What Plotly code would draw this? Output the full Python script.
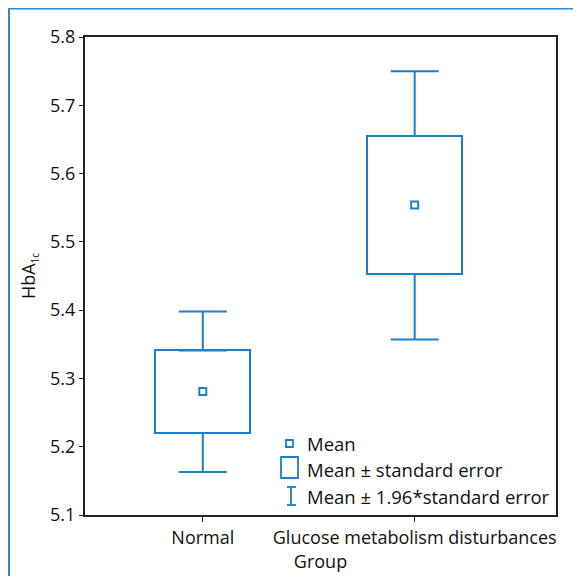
import plotly.graph_objects as go

# ---- data ----
groups = ["Normal", "Glucose metabolism disturbances"]
group_pos = [1, 2]
means = [5.281, 5.554]
se_low = [5.220, 5.453]
se_high = [5.341, 5.655]
ci_low = [5.163, 5.357]
ci_high = [5.398, 5.750]
y_ticks = [5.1, 5.2, 5.3, 5.4, 5.5, 5.6, 5.7, 5.8]

BLUE = "#1a80c8"
FONT = "Open Sans"
FS = 18
OFF = 8  # page body margin
W, H = 581 - OFF, 576 - OFF
L, R, T, B = 85 - OFF, 25, 37 - OFF, 61
PW, PH = W - L - R, H - T - B


def px(x):
    return (x - OFF - L) / PW


def py(y):
    return 1 - (y - OFF - T) / PH


fig = go.Figure()

# boxes: mean ± SE
fig.add_trace(go.Bar(
    x=group_pos, y=[h - l for h, l in zip(se_high, se_low)], base=se_low,
    width=0.448, marker=dict(color="white", line=dict(color=BLUE, width=2)),
    showlegend=False, hoverinfo="skip"))

# whiskers up
fig.add_trace(go.Scatter(
    x=group_pos, y=se_high, mode="markers", marker=dict(size=0.1, color=BLUE, opacity=0),
    error_y=dict(type="data", symmetric=False,
                 array=[c - s for c, s in zip(ci_high, se_high)],
                 arrayminus=[0, 0], color=BLUE, thickness=2, width=24),
    showlegend=False, hoverinfo="skip"))
# whiskers down
fig.add_trace(go.Scatter(
    x=group_pos, y=se_low, mode="markers", marker=dict(size=0.1, color=BLUE, opacity=0),
    error_y=dict(type="data", symmetric=False,
                 array=[0, 0],
                 arrayminus=[s - c for s, c in zip(se_low, ci_low)],
                 color=BLUE, thickness=2, width=24),
    showlegend=False, hoverinfo="skip"))

# means
fig.add_trace(go.Scatter(
    x=group_pos, y=means, mode="markers",
    marker=dict(symbol="square-open", size=7, color=BLUE, line=dict(width=2, color=BLUE)),
    showlegend=False, hoverinfo="skip"))

shapes = []
# outer blue frame (left and top)
shapes.append(dict(type="line", xref="paper", yref="paper", x0=px(9), x1=px(600),
                   y0=py(8.5), y1=py(8.5), line=dict(color="#2a8ad4", width=2)))
shapes.append(dict(type="line", xref="paper", yref="paper", x0=px(9), x1=px(9),
                   y0=py(8), y1=py(600), line=dict(color="#2a8ad4", width=2)))

# custom legend symbols
shapes.append(dict(type="rect", xref="paper", yref="paper", x0=px(286), x1=px(293),
                   y0=py(447), y1=py(440), line=dict(color=BLUE, width=1.8)))
shapes.append(dict(type="rect", xref="paper", yref="paper", x0=px(281), x1=px(298),
                   y0=py(478), y1=py(457), line=dict(color=BLUE, width=1.8)))
shapes.append(dict(type="line", xref="paper", yref="paper", x0=px(291), x1=px(291),
                   y0=py(505), y1=py(487), line=dict(color=BLUE, width=1.8)))
shapes.append(dict(type="line", xref="paper", yref="paper", x0=px(287), x1=px(296),
                   y0=py(487), y1=py(487), line=dict(color=BLUE, width=1.8)))
shapes.append(dict(type="line", xref="paper", yref="paper", x0=px(287), x1=px(296),
                   y0=py(505), y1=py(505), line=dict(color=BLUE, width=1.8)))

legend_labels = ["Mean", "Mean ± standard error", "Mean ± 1.96*standard error"]
legend_y = [443, 469, 496]
annotations = []
for lab, yy in zip(legend_labels, legend_y):
    annotations.append(dict(text=lab, xref="paper", yref="paper", x=px(305), y=py(yy),
                            xanchor="left", yanchor="middle", showarrow=False,
                            font=dict(family=FONT, size=18.5, color="#111")))

fig.update_layout(
    width=W, height=H,
    margin=dict(l=L, r=R, t=T, b=B, autoexpand=False),
    paper_bgcolor="white", plot_bgcolor="white",
    font=dict(family=FONT, size=FS, color="#111"),
    shapes=shapes, annotations=annotations,
    bargap=0,
    xaxis=dict(range=[0.444, 2.667], tickvals=group_pos, ticktext=groups,
               showgrid=False, zeroline=False, showline=True, mirror=True,
               linecolor="#222", linewidth=2, ticks="outside", ticklen=5,
               tickcolor="#222", tickwidth=1, automargin=False,
               title=dict(text="Group", standoff=8, font=dict(size=FS))),
    yaxis=dict(range=[5.1, 5.8], tickvals=y_ticks, ticktext=[f"{v:.1f}" for v in y_ticks],
               showgrid=False, zeroline=False, showline=True, mirror=True,
               linecolor="#222", linewidth=2, ticks="outside", ticklen=4,
               tickcolor="#222", tickwidth=1, automargin=False,
               title=dict(text="HbA<sub><span style='font-size:10px'>1c</span></sub>",
                          standoff=10, font=dict(size=FS))),
)

fig.write_html("out.html")
